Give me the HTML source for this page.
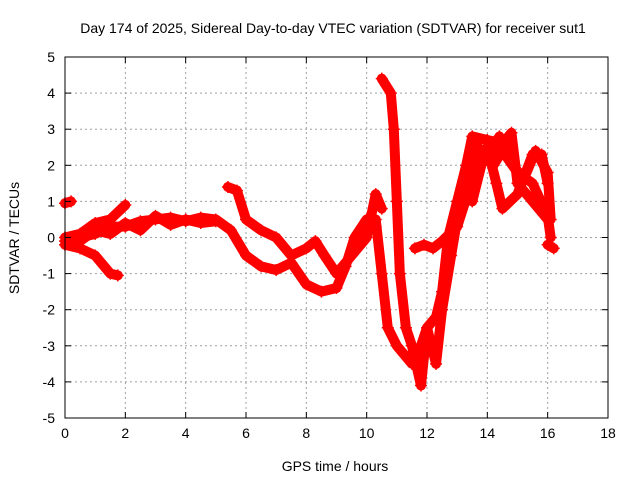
<!DOCTYPE html>
<html><head><meta charset="utf-8"><style>
body{margin:0;background:#fff}
svg text{font-family:"Liberation Sans",sans-serif;font-size:14px;fill:#000}
</style></head><body>
<svg id="c" width="640" height="480">
<rect width="640" height="480" fill="#fff"/>
<text x="333" y="33" text-anchor="middle">Day 174 of 2025, Sidereal Day-to-day VTEC variation (SDTVAR) for receiver sut1</text>
<text x="335" y="471" text-anchor="middle">GPS time / hours</text>
<text transform="translate(19,238) rotate(-90)" text-anchor="middle">SDTVAR / TECUs</text>
<g id="grid"></g><g id="marks"></g><g id="axes"></g>
</svg>
<script>
const xTicks=[0,2,4,6,8,10,12,14,16,18];
const yTicks=[-5,-4,-3,-2,-1,0,1,2,3,4,5];
const seriesA=[[0,-0.1],[0.5,0],[1,0.1],[1.5,0.3],[2,0.3],[2.5,0.45],[3,0.5],[3.5,0.55],[4,0.45],[4.5,0.55],[5,0.5],[5.5,0.2],[6,-0.5],[6.5,-0.8],[7,-0.9],[7.5,-0.7],[8,-1.3],[8.5,-1.5],[9,-1.4],[9.3,-0.8],[9.6,0],[10,0.5],[10.3,0.3]];
const seriesA2=[[0.5,-0.1],[1,0.2],[1.5,0.1],[2,0.4],[2.5,0.2],[3,0.6],[3.5,0.35],[4,0.5],[4.5,0.4],[5,0.45]];
const seriesB=[[0,-0.2],[0.5,-0.3],[1,-0.5],[1.5,-1.0],[1.75,-1.05]];
const seriesC=[[0,0],[0.5,0.1],[1,0.4],[1.5,0.5],[2,0.9]];
const seriesD=[[0,0.95],[0.2,1.0]];
const seriesE=[[5.4,1.4],[5.7,1.3],[6,0.5],[6.5,0.2],[7,0],[7.5,-0.5],[8,-0.3],[8.3,-0.1],[8.6,-0.5],[9,-1.0],[9.5,-0.5],[10,0],[10.3,1.2],[10.5,0.8]];
const seriesF=[[10.5,4.4],[10.8,4.0],[10.9,3.0],[11,1.0],[11.1,-1.0],[11.3,-2.5],[11.5,-3.0],[11.8,-4.1],[12,-2.5],[12.3,-2.2],[12.5,-1.5],[12.7,0],[13,1.0],[13.3,2.0],[13.5,2.8],[14,2.7],[14.5,2.6],[14.8,2.9],[15,1.5],[15.5,1.0],[16,0.5]];
const seriesG=[[10.3,0.5],[10.5,-1.0],[10.7,-2.5],[11,-3.0],[11.5,-3.5],[11.8,-3.0],[12,-2.5],[12.3,-3.5],[12.5,-2.0],[12.8,-0.5],[13,0.5],[13.2,1.5],[13.5,1.0],[13.8,2.0],[14,2.5],[14.3,1.5],[14.5,0.8],[15,1.2],[15.5,2.3],[15.8,2.3],[16,1.5]];
const seriesH=[[11.6,-0.3],[11.9,-0.2],[12.2,-0.3],[12.5,-0.1],[13,0.3],[13.5,1.6],[13.8,2.3],[14.2,2.0],[14.5,2.4],[15,1.8],[15.5,1.5],[16,0.6],[16.1,0]];
const seriesJ=[[13.2,1.2],[13.6,2.6],[14,2.2],[14.4,2.8],[14.7,2.2],[15.2,1.6],[15.6,2.4],[16,1.8],[16.1,0.5]];
const seriesI=[[16,-0.2],[16.2,-0.3]];
const allSeries=[seriesA,seriesA2,seriesB,seriesC,seriesD,seriesE,seriesF,seriesG,seriesH,seriesJ,seriesI];
const X0=65,X1=608,Y0=418,Y1=57;
function sx(h){return X0+(h-0)/(18-0)*(X1-X0);}
function sy(v){return Y0-(v+5)/10*(Y0-Y1);}
const NS="http://www.w3.org/2000/svg";
function mk(tag,attrs,parent){const e=document.createElementNS(NS,tag);for(const k in attrs)e.setAttribute(k,attrs[k]);parent.appendChild(e);return e;}
const grid=document.getElementById('grid'),axes=document.getElementById('axes'),marks=document.getElementById('marks');
xTicks.forEach(t=>{const x=sx(t);
 if(t>0&&t<18){const g=mk('line',{x1:x,x2:x,y1:Y1,y2:Y0,stroke:'#a0a0a0','stroke-dasharray':'2,3'},grid);}
 mk('line',{x1:x,x2:x,y1:Y0,y2:Y0-6,stroke:'#000'},axes);mk('line',{x1:x,x2:x,y1:Y1,y2:Y1+6,stroke:'#000'},axes);
 const l=mk('text',{x:x,y:Y0+20,'text-anchor':'middle'},axes);l.textContent=t;
 });
yTicks.forEach(t=>{const y=sy(t);
 if(t>-5&&t<5){const g=mk('line',{x1:X0,x2:X1,y1:y,y2:y,stroke:'#a0a0a0','stroke-dasharray':'2,3'},grid);}
 mk('line',{x1:X0,x2:X0+6,y1:y,y2:y,stroke:'#000'},axes);mk('line',{x1:X1,x2:X1-6,y1:y,y2:y,stroke:'#000'},axes);
 const l=mk('text',{x:X0-10,y:y+5,'text-anchor':'end'},axes);l.textContent=t;
 });
const fr=mk('rect',{x:X0,y:Y1,width:X1-X0,height:Y0-Y1,fill:'none',stroke:'#000'},axes);

allSeries.forEach((s,i)=>{
 const p=mk('polyline',{points:s.map(d=>sx(d[0])+','+sy(d[1])).join(' '),fill:'none',stroke:'#ff0000','stroke-width':10,'stroke-linejoin':'round','stroke-linecap':'round'},marks);
 
 
 s.forEach(d=>{const x=sx(d[0]),y=sy(d[1]);
  const m=mk('path',{d:`M${x-6},${y}H${x+6}M${x},${y-6}V${y+6}`,stroke:'#ff0000','stroke-width':1.5},marks);
  
  });
});
</script>
</body></html>
